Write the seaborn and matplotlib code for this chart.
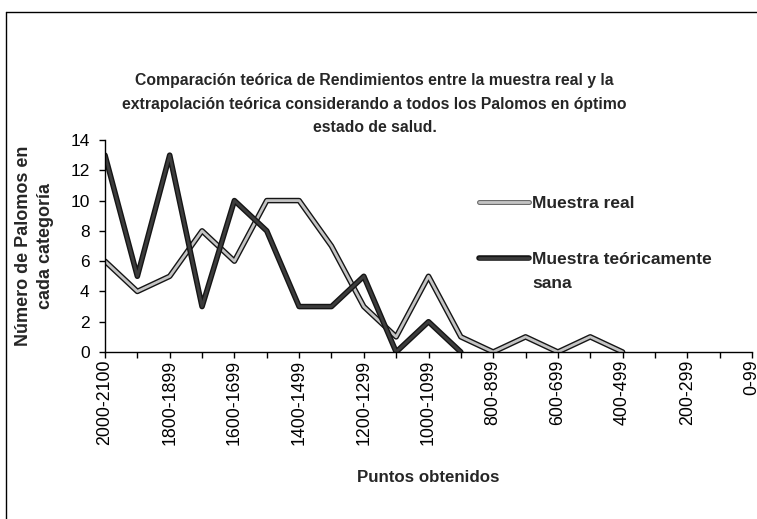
import numpy as np
import pandas as pd
import matplotlib
matplotlib.use("Agg")
import matplotlib.pyplot as plt
import matplotlib.patheffects as pe
import seaborn as sns

categorias = ["2000-2100", "1900-1999", "1800-1899", "1700-1799", "1600-1699",
              "1500-1599", "1400-1499", "1300-1399", "1200-1299", "1100-1199",
              "1000-1099", "900-999", "800-899", "700-799", "600-699",
              "500-599", "400-499", "300-399", "200-299", "100-199", "0-99"]
muestra_real = [6, 4, 5, 8, 6, 10, 10, 7, 3, 1, 5, 1, 0, 1, 0, 1, 0]
muestra_sana = [13, 5, 13, 3, 10, 8, 3, 3, 5, 0, 2, 0]

serie_real = "Muestra real"
serie_sana = "Muestra teóricamente"

df = pd.concat([
    pd.DataFrame({"pos": np.arange(len(muestra_real)), "n": muestra_real, "serie": serie_real}),
    pd.DataFrame({"pos": np.arange(len(muestra_sana)), "n": muestra_sana, "serie": serie_sana}),
])

sns.set_style("ticks")
plt.rcParams["font.family"] = ["Liberation Sans", "DejaVu Sans"]

fig = plt.figure(figsize=(7.57, 5.19), dpi=100)
ax = fig.add_axes([105 / 757, 167 / 519, 647 / 757, 212 / 519])

sns.lineplot(data=df, x="pos", y="n", hue="serie", ax=ax,
             palette={serie_real: "#c4c4c4", serie_sana: "#3c3c3c"},
             hue_order=[serie_real, serie_sana], linewidth=2)

for line in ax.lines:
    if line.get_label() == serie_real:
        line.set_path_effects([pe.Stroke(linewidth=3.6, foreground="#6a6a6a"), pe.Normal()])
    else:
        line.set_path_effects([pe.Stroke(linewidth=4, foreground="#151515"), pe.Normal()])
        line.set_zorder(1.9)

ax.set_xlim(0, len(categorias) - 1)
ax.set_ylim(0, 14)
ax.set_yticks(range(0, 15, 2))
ax.set_xticks(range(len(categorias)))
ax.set_xticklabels([c if i % 2 == 0 else "" for i, c in enumerate(categorias)], rotation=90)
ax.tick_params(axis="both", colors="black", length=4, width=1)
ax.tick_params(axis="x", labelsize=12.8, pad=1.5)
ax.tick_params(axis="y", labelsize=12.5, pad=7)
sns.despine(ax=ax)
for s in ["left", "bottom"]:
    ax.spines[s].set_color("black")
    ax.spines[s].set_linewidth(1)

ax.set_xlabel("Puntos obtenidos", fontsize=12.2, fontweight="bold", labelpad=18)
ax.set_ylabel("Número de Palomos en\ncada categoría", fontsize=13, fontweight="bold",
              labelpad=12, linespacing=1.35)

fig.text(0.495, 1 - 73 / 519,
         "Comparación teórica de Rendimientos entre la muestra real y la\n"
         "extrapolación teórica considerando a todos los Palomos en óptimo\n"
         "estado de salud.",
         ha="center", va="top", fontsize=11.3, fontweight="bold", linespacing=1.72)

leg = ax.legend(loc="upper left", bbox_to_anchor=(470 / 757, 1 - 187 / 519),
                bbox_transform=fig.transFigure, frameon=False, borderpad=0,
                handlelength=2.9, handletextpad=0.2, labelspacing=2.35,
                prop={"weight": "bold", "size": 12.5})
fig.canvas.draw()
txt = leg.get_texts()[1]
bb = txt.get_window_extent()
fig.text(bb.x0 / fig.bbox.width, (bb.y0 - 9) / fig.bbox.height, "sana",
         ha="left", va="top", fontsize=12.5, fontweight="bold")

# marco del grafico
fig.add_artist(plt.Line2D([6 / 757, 6 / 757], [0, 1 - 12 / 519], color="black", lw=1))
fig.add_artist(plt.Line2D([6 / 757, 1], [1 - 12 / 519, 1 - 12 / 519], color="black", lw=1))

fig.savefig("out.png", dpi=100)
plt.close(fig)
